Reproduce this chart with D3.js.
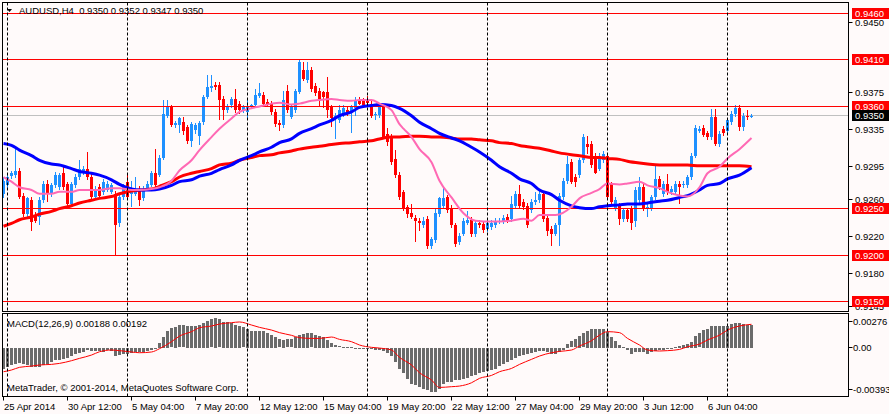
<!DOCTYPE html>
<html>
<head>
<meta charset="utf-8">
<script src="https://cdn.jsdelivr.net/npm/d3@7"></script>
<style>
	body { margin: 0; background: #fffafa; }
	text { font-family: "Liberation Sans", Arial, sans-serif; font-size: 9.5px; white-space: pre; }
</style>
</head>
<body>
<div id="chart"></div>
<script>
// AUDUSD H4 candles (bar 0 = 25 Apr 2014 00:00)
const opens = [
	.9266,.9275,.9285,.9286,.9291,.9264,.9244,.9259,.9243,.9241,
	.9259,.9277,.9266,.9275,.9273,.9288,.9277,.9255,.9275,.9284,
	.9289,.9293,.9284,.9262,.9273,.9268,.9270,.9268,.9266,.9234,
	.9262,.9279,.9266,.9266,.9271,.9261,.9271,.9275,.9288,.9286,
	.9305,.9350,.9360,.9340,.9340,.9343,.9338,.9323,.9335,.9328,
	.9343,.9370,.9380,.9383,.9383,.9368,.9356,.9361,.9368,.9363,
	.9356,.9354,.9359,.9361,.9371,.9372,.9365,.9363,.9354,.9342,
	.9340,.9377,.9349,.9356,.9376,.9399,.9388,.9399,.9382,.9377,
	.9375,.9375,.9359,.9347,.9345,.9352,.9356,.9354,.9358,.9367,
	.9366,.9368,.9363,.9351,.9351,.9359,.9330,.9327,.9303,.9286,
	.9268,.9252,.9245,.9240,.9237,.9232,.9239,.9210,.9216,.9244,
	.9253,.9262,.9251,.9232,.9214,.9223,.9235,.9238,.9223,.9235,
	.9233,.9228,.9230,.9232,.9236,.9236,.9241,.9239,.9253,.9266,
	.9257,.9253,.9248,.9257,.9259,.9266,.9240,.9228,.9223,.9232,
	.9262,.9280,.9300,.9284,.9286,.9302,.9319,.9320,.9307,.9293,
	.9302,.9307,.9276,.9250,.9253,.9239,.9248,.9250,.9237,.9259,
	.9273,.9250,.9250,.9262,.9282,.9266,.9277,.9268,.9268,.9277,
	.9275,.9275,.9284,.9307,.9334,.9337,.9331,.9327,.9349,.9320,
	.9336,.9334,.9343,.9352,.9358,.9338,.9350,.9350
]
const highs = [
	.9284,.9288,.9291,.9316,.9294,.9267,.9263,.9262,.9246,.9262,
	.9280,.9281,.9278,.9289,.9288,.9295,.9279,.9279,.9287,.9302,
	.9296,.9311,.9287,.9274,.9276,.9282,.9280,.9278,.9269,.9265,
	.9276,.9288,.9280,.9284,.9274,.9274,.9280,.9290,.9314,.9308,
	.9367,.9367,.9362,.9344,.9349,.9349,.9340,.9343,.9342,.9344,
	.9372,.9394,.9394,.9386,.9386,.9371,.9363,.9370,.9379,.9366,
	.9362,.9368,.9363,.9379,.9385,.9375,.9368,.9366,.9357,.9345,
	.9377,.9383,.9362,.9379,.9410,.9408,.9408,.9402,.9385,.9380,
	.9377,.9392,.9362,.9353,.9361,.9361,.9359,.9362,.9370,.9370,
	.9369,.9371,.9366,.9354,.9364,.9362,.9337,.9330,.9313,.9289,
	.9270,.9254,.9255,.9243,.9240,.9241,.9242,.9219,.9251,.9263,
	.9273,.9265,.9254,.9235,.9224,.9240,.9247,.9241,.9237,.9238,
	.9236,.9237,.9238,.9240,.9240,.9243,.9244,.9264,.9269,.9275,
	.9260,.9256,.9260,.9268,.9269,.9269,.9243,.9231,.9235,.9267,
	.9283,.9307,.9303,.9287,.9305,.9330,.9328,.9323,.9310,.9310,
	.9312,.9310,.9279,.9262,.9256,.9251,.9251,.9253,.9273,.9284,
	.9276,.9255,.9265,.9297,.9285,.9280,.9287,.9274,.9280,.9280,
	.9280,.9286,.9310,.9340,.9339,.9340,.9334,.9357,.9357,.9333,
	.9339,.9348,.9355,.9362,.9362,.9353,.9356,.9352
]
const lows = [
	.9261,.9270,.9282,.9283,.9260,.9241,.9240,.9226,.9234,.9232,
	.9256,.9257,.9263,.9272,.9270,.9270,.9252,.9252,.9272,.9281,
	.9286,.9281,.9259,.9259,.9262,.9265,.9268,.9266,.9200,.9230,
	.9259,.9259,.9252,.9264,.9253,.9258,.9269,.9273,.9272,.9284,
	.9302,.9347,.9338,.9337,.9331,.9329,.9320,.9316,.9330,.9318,
	.9340,.9368,.9376,.9378,.9345,.9345,.9353,.9358,.9353,.9352,
	.9353,.9347,.9357,.9359,.9369,.9360,.9359,.9351,.9338,.9334,
	.9337,.9353,.9346,.9353,.9373,.9387,.9385,.9376,.9371,.9359,
	.9358,.9347,.9338,.9325,.9342,.9349,.9350,.9331,.9350,.9361,
	.9359,.9361,.9347,.9345,.9348,.9325,.9317,.9297,.9283,.9259,
	.9247,.9240,.9239,.9214,.9226,.9229,.9207,.9206,.9213,.9241,
	.9250,.9245,.9229,.9209,.9211,.9220,.9232,.9219,.9219,.9229,
	.9224,.9225,.9227,.9229,.9233,.9233,.9234,.9236,.9250,.9250,
	.9249,.9229,.9245,.9254,.9256,.9236,.9220,.9210,.9220,.9210,
	.9259,.9277,.9276,.9273,.9283,.9299,.9309,.9294,.9287,.9290,
	.9299,.9259,.9254,.9247,.9232,.9236,.9236,.9227,.9230,.9256,
	.9247,.9241,.9247,.9259,.9270,.9263,.9265,.9265,.9265,.9255,
	.9272,.9272,.9281,.9304,.9331,.9327,.9324,.9324,.9317,.9316,
	.9328,.9331,.9340,.9349,.9334,.9334,.9345,.9347
]
const closes = [
	.9280,.9284,.9288,.9290,.9262,.9244,.9261,.9236,.9237,.9259,
	.9277,.9266,.9275,.9286,.9286,.9273,.9255,.9277,.9284,.9293,
	.9293,.9284,.9262,.9271,.9264,.9279,.9277,.9275,.9232,.9262,
	.9273,.9262,.9270,.9268,.9259,.9271,.9277,.9288,.9275,.9305,
	.9352,.9359,.9340,.9342,.9347,.9334,.9323,.9341,.9340,.9342,
	.9370,.9381,.9382,.9381,.9367,.9356,.9360,.9368,.9356,.9356,
	.9359,.9359,.9361,.9372,.9374,.9363,.9361,.9354,.9341,.9340,
	.9367,.9356,.9359,.9377,.9408,.9390,.9399,.9379,.9374,.9368,
	.9370,.9356,.9347,.9350,.9356,.9358,.9352,.9359,.9367,.9363,
	.9361,.9364,.9350,.9352,.9361,.9327,.9322,.9300,.9286,.9262,
	.9250,.9244,.9241,.9237,.9234,.9237,.9210,.9217,.9245,.9261,
	.9261,.9248,.9232,.9212,.9221,.9237,.9238,.9223,.9235,.9232,
	.9227,.9234,.9235,.9237,.9237,.9240,.9237,.9255,.9266,.9253,
	.9252,.9232,.9257,.9259,.9266,.9239,.9226,.9223,.9232,.9264,
	.9280,.9298,.9279,.9279,.9302,.9327,.9316,.9297,.9288,.9307,
	.9309,.9262,.9257,.9259,.9239,.9248,.9239,.9235,.9270,.9273,
	.9250,.9252,.9262,.9282,.9273,.9277,.9268,.9271,.9277,.9273,
	.9277,.9284,.9307,.9337,.9336,.9329,.9327,.9349,.9320,.9330,
	.9331,.9345,.9352,.9358,.9338,.9350,.9349,.9350
]

// Moving averages, read at [bar, price]
const maFast = [
	[0,.9284],[2,.9279],[4,.9273],[7,.9270],[9,.9266],[12,.9266],[14,.9268],[17,.9268],[19,.9270],[22,.9270],
	[24,.9270],[27,.9272],[29,.9272],[32,.9270],[34,.9270],[37,.9271],[39,.9273],[42,.9280],[44,.9291],[47,.9302],
	[49,.9313],[52,.9327],[54,.9336],[57,.9347],[59,.9354],[62,.9358],[64,.9360],[67,.9363],[69,.9364],[72,.9362],
	[74,.9363],[77,.9366],[79,.9367],[82,.9368],[84,.9367],[87,.9366],[89,.9367],[92,.9367],[94,.9363],[97,.9356],
	[99,.9341],[100,.9336],[102,.9327],[104,.9314],[107,.9300],[109,.9280],[112,.9262],[115,.9245],[118,.9237],[122,.9236],
	[124,.9236],[127,.9237],[130,.9239],[132,.9237],[134,.9243],[138,.9243],[142,.9252],[144,.9261],[147,.9267],[149,.9271],
	[151,.9277],[154,.9276],[156,.9277],[159,.9279],[161,.9275],[164,.9272],[166,.9268],[169,.9264],[171,.9263],[174,.9273],
	[176,.9288],[179,.9295],[181,.9304],[184,.9314],[187,.9326]
]
const maMid = [
	[0,.9320],[2,.9318],[4,.9313],[7,.9307],[9,.9302],[12,.9298],[14,.9297],[17,.9293],[19,.9290],[22,.9288],
	[24,.9286],[27,.9281],[29,.9276],[32,.9271],[34,.9270],[37,.9270],[39,.9271],[42,.9275],[44,.9279],[47,.9281],
	[49,.9285],[52,.9288],[54,.9292],[57,.9297],[59,.9302],[62,.9307],[64,.9311],[67,.9316],[69,.9321],[72,.9325],
	[74,.9331],[77,.9336],[79,.9340],[82,.9345],[84,.9350],[87,.9354],[89,.9359],[92,.9361],[94,.9362],[97,.9361],
	[99,.9358],[102,.9350],[104,.9343],[107,.9336],[109,.9331],[112,.9326],[114,.9323],[117,.9316],[119,.9311],[122,.9302],
	[124,.9295],[127,.9288],[129,.9282],[132,.9277],[134,.9270],[137,.9265],[139,.9259],[142,.9253],[144,.9251],[147,.9250],
	[149,.9252],[151,.9253],[154,.9254],[156,.9255],[159,.9255],[161,.9256],[164,.9258],[166,.9259],[169,.9262],[171,.9264],
	[174,.9270],[176,.9275],[179,.9277],[181,.9282],[184,.9286],[187,.9294]
]
const maSlow = [
	[0,.9231],[2,.9234],[4,.9238],[7,.9241],[9,.9244],[12,.9247],[14,.9250],[17,.9253],[19,.9256],[22,.9259],
	[24,.9261],[27,.9263],[29,.9266],[32,.9269],[34,.9270],[37,.9271],[39,.9274],[42,.9279],[44,.9284],[47,.9288],
	[49,.9290],[52,.9293],[54,.9297],[57,.9299],[59,.9302],[62,.9305],[64,.9307],[67,.9308],[69,.9310],[72,.9312],
	[74,.9314],[77,.9316],[79,.9317],[82,.9319],[84,.9320],[87,.9321],[89,.9322],[92,.9323],[94,.9325],[97,.9327],
	[99,.9327],[102,.9328],[104,.9328],[107,.9327],[109,.9327],[112,.9326],[114,.9325],[117,.9325],[119,.9324],[122,.9323],
	[124,.9321],[127,.9320],[129,.9318],[132,.9316],[134,.9315],[137,.9312],[139,.9310],[142,.9308],[144,.9307],[147,.9305],
	[149,.9305],[151,.9304],[154,.9303],[156,.9301],[159,.9299],[161,.9298],[164,.9297],[166,.9297],[169,.9297],[171,.9297],
	[174,.9296],[176,.9296],[179,.9296],[181,.9296],[184,.9296],[187,.9295]
]

// MACD(12,26,9): main histogram per bar, signal read at [bar, value]
const macdMain = [
	-.00168,-.00154,-.00140,-.00127,-.00121,-.00132,-.00140,-.00154,-.00159,-.00154,
	-.00135,-.00127,-.00116,-.00100,-.00094,-.00086,-.00078,-.00067,-.00051,-.00040,
	-.00029,-.00018,-.00023,-.00026,-.00023,-.00029,-.00018,-.00023,-.00067,-.00059,
	-.00051,-.00051,-.00040,-.00034,-.00034,-.00034,-.00026,-.00018,-.00007,.00042,
	.00091,.00140,.00159,.00173,.00183,.00183,.00178,.00178,.00178,.00186,
	.00200,.00221,.00232,.00241,.00232,.00213,.00213,.00205,.00186,.00178,
	.00167,.00151,.00140,.00140,.00140,.00140,.00124,.00104,.00091,.00069,
	.00064,.00069,.00069,.00091,.00104,.00113,.00124,.00118,.00104,.00096,
	.00091,.00064,.00036,.00020,.00012,.00008,.00005,.00003,-.00002,-.00003,
	-.00004,-.00005,-.00007,-.00013,-.00018,-.00023,-.00040,-.00067,-.00113,-.00168,
	-.00208,-.00249,-.00290,-.00303,-.00317,-.00331,-.00344,-.00358,-.00358,-.00331,
	-.00290,-.00276,-.00276,-.00263,-.00257,-.00252,-.00241,-.00230,-.00219,-.00208,
	-.00198,-.00189,-.00181,-.00168,-.00149,-.00127,-.00113,-.00094,-.00078,-.00067,
	-.00056,-.00045,-.00040,-.00029,-.00023,-.00023,-.00034,-.00045,-.00051,-.00032,
	-.00013,.00031,.00053,.00069,.00096,.00118,.00140,.00151,.00151,.00151,
	.00156,.00132,.00091,.00058,.00023,.00004,-.00018,-.00045,-.00034,-.00032,
	-.00032,-.00045,-.00032,-.00023,-.00018,-.00013,-.00007,-.00002,.00009,.00015,
	.00023,.00031,.00050,.00096,.00118,.00145,.00151,.00178,.00178,.00178,
	.00178,.00178,.00194,.00205,.00200,.00194,.00186,.00188
]
const macdSignal = [
	[0,-.00195],[2,-.00181],[4,-.00159],[7,-.00149],[9,-.00140],[12,-.00135],[14,-.00127],[17,-.00105],[19,-.00086],[22,-.00059],
	[24,-.00032],[27,-.00018],[29,-.00023],[32,-.00034],[34,-.00040],[37,-.00034],[39,-.00007],[42,.00050],[44,.00096],[47,.00132],
	[49,.00164],[52,.00178],[54,.00194],[57,.00205],[59,.00211],[62,.00186],[64,.00167],[67,.00145],[69,.00124],[72,.00102],
	[74,.00083],[77,.00077],[79,.00077],[82,.00088],[84,.00069],[87,.00050],[89,.00023],[92,.00004],[94,-.00002],[97,-.00018],
	[99,-.00078],[102,-.00140],[104,-.00203],[107,-.00263],[109,-.00323],[112,-.00317],[114,-.00312],[117,-.00285],[119,-.00249],[122,-.00225],
	[124,-.00195],[127,-.00168],[129,-.00135],[132,-.00094],[134,-.00067],[137,-.00040],[139,-.00029],[142,-.00018],[144,.00015],[147,.00058],
	[149,.00104],[151,.00132],[154,.00124],[156,.00077],[159,.00023],[161,-.00018],[164,-.00026],[166,-.00023],[169,-.00013],[171,.00009],
	[174,.00031],[176,.00064],[179,.00104],[181,.00145],[184,.00178],[187,.00192]
]

// Horizontal levels, axis ticks, time labels
const levels = [0.9460, 0.9410, 0.9360, 0.9250, 0.9200, 0.9150]
const lastPrice = 0.9350
const priceTicks = [0.9450, 0.9375, 0.9335, 0.9295, 0.9260, 0.9220, 0.9180, 0.9145]
const macdTicks = [0.00276, 0, -0.00393]
const macdTickLabels = ["0.00276", "0.00", "-0.00393"]
const timeBars = [0, 16, 32, 48, 64, 80, 96, 112, 128, 144, 160, 176]
const timeLabels = ["25 Apr 2014", "30 Apr 12:00", "5 May 04:00", "7 May 20:00", "12 May 12:00", "15 May 04:00",
	"19 May 20:00", "22 May 12:00", "27 May 04:00", "29 May 20:00", "3 Jun 12:00", "6 Jun 04:00"]
const gridBars = [1, 31, 61, 91, 121, 151, 181]

const dims = {
	width: 889, height: 414,
	left: 2.5, right: 848.5,
	mainTop: 2.5, mainBottom: 311.5,
	macdTop: 313.5, macdBottom: 396.5
}
const crisp = (v) => Math.round(v - 0.5) + 0.5

const svg = d3.select("#chart")
	.append("svg")
	.attr("width", dims.width)
	.attr("height", dims.height)

svg.append("rect")
	.attr("width", dims.width)
	.attr("height", dims.height)
	.attr("fill", "#fffafa")

// Scales
const xScale = d3.scaleLinear()
	.domain([0, opens.length - 1])
	.range([3.5, 751.5])

const yScale = d3.scaleLinear()
	.domain([0.9150, 0.9460])
	.range([301.5, 13.5])

const macdScale = d3.scaleLinear()
	.domain([-0.00393, 0.00276])
	.range([396, 314])

// Clip paths
const defs = svg.append("defs")
defs.append("clipPath").attr("id", "clipMain")
	.append("rect").attr("x", 3).attr("y", 3).attr("width", 845).attr("height", 308)
defs.append("clipPath").attr("id", "clipMacd")
	.append("rect").attr("x", 3).attr("y", 314).attr("width", 845).attr("height", 82)

const main = svg.append("g").attr("clip-path", "url(#clipMain)")
const macd = svg.append("g").attr("clip-path", "url(#clipMacd)")

// Current price line
main.append("line")
	.attr("x1", dims.left).attr("x2", dims.right)
	.attr("y1", crisp(yScale(lastPrice))).attr("y2", crisp(yScale(lastPrice)))
	.attr("stroke", "#c0c0c0")

// Vertical dashed grid
gridBars.forEach((b) => {
	const gx = crisp(xScale(b))
	svg.append("line")
		.attr("x1", gx).attr("x2", gx)
		.attr("y1", dims.mainTop).attr("y2", dims.mainBottom)
		.attr("stroke", "black").attr("stroke-dasharray", "3,2")
	svg.append("line")
		.attr("x1", gx).attr("x2", gx)
		.attr("y1", dims.macdTop).attr("y2", dims.macdBottom)
		.attr("stroke", "black").attr("stroke-dasharray", "3,2")
})

// Candles
const bars = d3.range(opens.length).map((i) => ({
	i: i, o: opens[i], h: highs[i], l: lows[i], c: closes[i]
}))
const candleColor = (d) => d.c >= d.o ? "#1e90ff" : "#ff0000"

main.append("g").selectAll("line")
	.data(bars)
	.join("line")
	.attr("x1", (d) => xScale(d.i))
	.attr("x2", (d) => xScale(d.i))
	.attr("y1", (d) => Math.round(yScale(d.h)))
	.attr("y2", (d) => Math.round(yScale(d.l)))
	.attr("stroke", candleColor)
	.attr("shape-rendering", "crispEdges")

main.append("g").selectAll("rect")
	.data(bars)
	.join("rect")
	.attr("x", (d) => xScale(d.i) - 1.5)
	.attr("width", 3)
	.attr("y", (d) => Math.round(yScale(Math.max(d.o, d.c))))
	.attr("height", (d) => Math.max(1, Math.round(yScale(Math.min(d.o, d.c))) - Math.round(yScale(Math.max(d.o, d.c)))))
	.attr("fill", candleColor)
	.attr("shape-rendering", "crispEdges")

// Level lines
levels.forEach((v) => {
	main.append("line")
		.attr("x1", dims.left).attr("x2", dims.right)
		.attr("y1", crisp(yScale(v))).attr("y2", crisp(yScale(v)))
		.attr("stroke", "#ff0000")
})

// Moving averages
const maLine = d3.line()
	.x((d) => xScale(d[0]))
	.y((d) => yScale(d[1]))
	.curve(d3.curveMonotoneX)

main.append("path").attr("d", maLine(maSlow))
	.attr("fill", "none").attr("stroke", "#ff0000").attr("stroke-width", 3)
main.append("path").attr("d", maLine(maMid))
	.attr("fill", "none").attr("stroke", "#0000ff").attr("stroke-width", 3)
main.append("path").attr("d", maLine(maFast))
	.attr("fill", "none").attr("stroke", "#ff69b4").attr("stroke-width", 2)

// MACD histogram and signal
macd.append("g").selectAll("rect")
	.data(macdMain)
	.join("rect")
	.attr("x", (d, i) => xScale(i) - 1.5)
	.attr("width", 3)
	.attr("y", (d) => Math.round(Math.min(macdScale(0), macdScale(d))))
	.attr("height", (d) => Math.max(1, Math.round(Math.abs(macdScale(d) - macdScale(0)))))
	.attr("fill", "#6b6b6b")
	.attr("shape-rendering", "crispEdges")

macd.append("path")
	.attr("d", d3.line()
		.x((d) => xScale(d[0]))
		.y((d) => macdScale(d[1]))
		.curve(d3.curveMonotoneX)(macdSignal))
	.attr("fill", "none").attr("stroke", "#ff0000").attr("stroke-width", 1)

// Panel frames
const frame = svg.append("g").attr("fill", "none").attr("stroke", "black")
frame.append("rect")
	.attr("x", dims.left).attr("y", dims.mainTop)
	.attr("width", dims.right - dims.left).attr("height", dims.mainBottom - dims.mainTop)
frame.append("rect")
	.attr("x", dims.left).attr("y", dims.macdTop)
	.attr("width", dims.right - dims.left).attr("height", dims.macdBottom - dims.macdTop)

// Price axis
priceTicks.forEach((v) => {
	const ty = crisp(yScale(v))
	svg.append("line")
		.attr("x1", dims.right).attr("x2", dims.right + 4)
		.attr("y1", ty).attr("y2", ty)
		.attr("stroke", "black")
	svg.append("text")
		.attr("x", 855).attr("y", ty + 3.5)
		.attr("fill", "black")
		.text(v.toFixed(4))
})

levels.forEach((v) => {
	const ty = crisp(yScale(v))
	svg.append("rect")
		.attr("x", 852).attr("y", ty - 5.5)
		.attr("width", 37).attr("height", 11)
		.attr("fill", "#ff0000")
	svg.append("text")
		.attr("x", 855).attr("y", ty + 3.5)
		.attr("fill", "white")
		.text(v.toFixed(4))
})

const lastY = crisp(yScale(lastPrice))
svg.append("rect")
	.attr("x", 852).attr("y", lastY - 5.5)
	.attr("width", 37).attr("height", 11)
	.attr("fill", "black")
svg.append("text")
	.attr("x", 855).attr("y", lastY + 3.5)
	.attr("fill", "white")
	.text(lastPrice.toFixed(4))

// MACD axis (labels kept inside the panel)
macdTicks.forEach((v, i) => {
	let ty = macdScale(v)
	if (i === 0) ty += 7
	if (i === macdTicks.length - 1) ty -= 7
	ty = crisp(ty)
	svg.append("line")
		.attr("x1", dims.right).attr("x2", dims.right + 4)
		.attr("y1", ty).attr("y2", ty)
		.attr("stroke", "black")
	svg.append("text")
		.attr("x", 853).attr("y", ty + 3.5)
		.attr("fill", "black")
		.text(macdTickLabels[i])
})

// Time axis
timeBars.forEach((b, i) => {
	const tx = crisp(xScale(b)) - 0.5
	svg.append("line")
		.attr("x1", tx + 0.5).attr("x2", tx + 0.5)
		.attr("y1", dims.macdBottom).attr("y2", dims.macdBottom + 4)
		.attr("stroke", "black")
	svg.append("text")
		.attr("x", tx + 1).attr("y", 410)
		.attr("fill", "black")
		.text(timeLabels[i])
})

// Titles
svg.append("path")
	.attr("d", "M7,9 L12,9 L9.5,12 Z")
	.attr("fill", "black")
svg.append("text")
	.attr("x", 19).attr("y", 14)
	.attr("fill", "black")
	.text("AUDUSD,H4  0.9350 0.9352 0.9347 0.9350")
svg.append("text")
	.attr("x", 7).attr("y", 327)
	.attr("fill", "black")
	.text("MACD(12,26,9) 0.00188 0.00192")
svg.append("text")
	.attr("x", 7).attr("y", 391)
	.attr("fill", "black")
	.text("MetaTrader, © 2001-2014, MetaQuotes Software Corp.")
</script>
</body>
</html>
